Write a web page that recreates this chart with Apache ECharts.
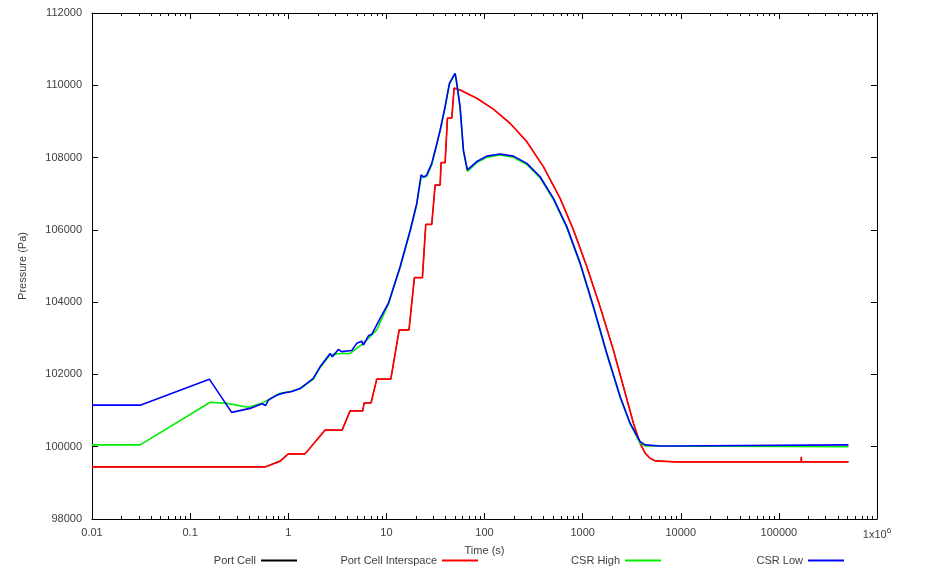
<!DOCTYPE html>
<html><head><meta charset="utf-8">
<script src="https://cdn.jsdelivr.net/npm/echarts@6/dist/echarts.min.js"></script>
<style>html,body{margin:0;padding:0;background:#fff}#c{width:926px;height:572px}</style>
</head><body><div id="c"></div>
<script>
const seriesNames = ['Port Cell', 'Port Cell Interspace', 'CSR High', 'CSR Low'];
const seriesColors = ['#000000', '#ff0000', '#00ee00', '#0000ff'];
const seriesWidths = [1.0, 1.7, 1.6, 1.6];

const portCellTime = [0.01, 0.58, 0.82, 1.0, 1.48, 2.37, 3.54, 4.27, 5.75, 5.93, 6.98, 7.98, 11.1, 13.5, 17.0, 19.3, 23.3, 25.2, 29.0, 31.4, 35.3, 36.1, 39.7, 41.9, 46.4, 49.0, 56.4, 83.5, 123, 182, 270, 398, 590, 806, 1104, 1507, 2061, 2606, 3296, 3855, 4335, 4875, 5480, 8770, 168000, 169000, 170000, 512000];
const portCellP = [99440, 99440, 99610, 99800, 99800, 100460, 100460, 100990, 100990, 101210, 101210, 101870, 101870, 103230, 103230, 104680, 104680, 106150, 106150, 107240, 107240, 107860, 107860, 109090, 109090, 109920, 109870, 109640, 109340, 108950, 108440, 107750, 106870, 106000, 104980, 103870, 102670, 101660, 100650, 100090, 99820, 99680, 99610, 99580, 99580, 99580, 99580, 99580];

const interspaceTime = [0.01, 0.58, 0.82, 1.0, 1.48, 2.37, 3.54, 4.27, 5.75, 5.93, 6.98, 7.98, 11.1, 13.5, 17.0, 19.3, 23.3, 25.2, 29.0, 31.4, 35.3, 36.1, 39.7, 41.9, 46.4, 49.0, 56.4, 83.5, 123, 182, 270, 398, 590, 806, 1104, 1507, 2061, 2606, 3296, 3855, 4335, 4875, 5480, 8770, 168000, 169000, 170000, 512000];
const interspaceP = [99440, 99440, 99590, 99800, 99800, 100460, 100460, 100990, 100990, 101210, 101210, 101870, 101870, 103230, 103230, 104680, 104680, 106150, 106150, 107240, 107240, 107860, 107860, 109090, 109090, 109920, 109870, 109640, 109340, 108950, 108440, 107750, 106870, 106000, 104980, 103870, 102670, 101660, 100650, 100090, 99820, 99680, 99610, 99580, 99580, 99720, 99580, 99580];

const csrHighTime = [0.01, 0.031, 0.160, 0.236, 0.392, 0.537, 0.824, 1.04, 1.32, 1.80, 2.11, 2.67, 3.37, 4.27, 5.83, 7.98, 10.5, 13.8, 17.5, 20.4, 22.6, 25.8, 29.0, 32.7, 35.3, 39.7, 43.9, 50.1, 51.3, 56.4, 61.0, 66.9, 83.5, 105.5, 144, 197, 270, 369, 504, 690, 944, 1291, 1766, 2411, 3048, 3855, 4335, 4510, 512000];
const csrHighP = [100050, 100050, 101230, 101200, 101090, 101200, 101480, 101520, 101610, 101870, 102190, 102540, 102580, 102580, 102860, 103230, 103950, 104950, 105970, 106710, 107450, 107480, 107800, 108370, 108740, 109400, 110030, 110320, 110180, 109380, 108180, 107620, 107860, 108010, 108070, 108010, 107810, 107440, 106840, 106060, 105050, 103840, 102550, 101360, 100630, 100100, 100020, 100000, 100000];

const csrLowTime = [0.01, 0.031, 0.157, 0.265, 0.408, 0.541, 0.587, 0.627, 0.769, 0.906, 1.09, 1.32, 1.80, 2.11, 2.67, 2.82, 3.24, 3.51, 4.44, 4.99, 5.61, 5.83, 6.56, 7.10, 8.63, 10.5, 13.8, 17.5, 20.4, 22.6, 24.1, 25.8, 29.0, 32.7, 35.3, 39.7, 43.9, 50.1, 51.3, 56.4, 61.0, 66.9, 83.5, 105.5, 144, 197, 270, 369, 504, 690, 944, 1291, 1766, 2411, 3048, 3855, 4335, 6170, 7800, 8170, 512000];
const csrLowP = [101150, 101150, 101870, 100950, 101060, 101190, 101140, 101290, 101430, 101490, 101530, 101610, 101890, 102210, 102580, 102490, 102690, 102630, 102660, 102860, 102920, 102810, 103070, 103110, 103550, 103970, 104980, 105990, 106730, 107520, 107460, 107520, 107840, 108390, 108760, 109410, 110050, 110330, 110190, 109400, 108200, 107660, 107890, 108040, 108100, 108040, 107840, 107470, 106870, 106090, 105080, 103870, 102580, 101390, 100650, 100140, 100050, 100020, 100020, 100050, 100050];

const yTicks = [98000, 112000, 2000]; // min, max, step
const xRange = [0.01, 1e6];

const FONT = 'Liberation Sans, Arial, sans-serif';
const TXT = '#404040';

const allTimes = [portCellTime, interspaceTime, csrHighTime, csrLowTime];
const allP = [portCellP, interspaceP, csrHighP, csrLowP];

const minorVals = [];
for (let d = -2; d < 6; d++) for (let k = 2; k < 10; k++) minorVals.push(d + Math.log10(k));

const legendEnds = [297, 478, 661, 844];

const chart = echarts.init(document.getElementById('c'));
const majorAxis = (pos, showLabel) => ({
  type: 'log', logBase: 10, position: pos, min: xRange[0], max: xRange[1], splitNumber: 8,
  axisLine: {show: true, onZero: false, lineStyle: {color: '#000', width: 1}},
  axisTick: {show: true, inside: true, length: 6, lineStyle: {color: '#000'}},
  splitLine: {show: false},
  axisLabel: showLabel ? {
    show: true, margin: 8, color: TXT, fontSize: 11, fontFamily: FONT,
    formatter: v => (v >= 999999 ? '{a|1x10}{s|6}' : String(+(+v).toPrecision(6))),
    rich: {a: {fontSize: 11, color: TXT, fontFamily: FONT}, s: {fontSize: 8, color: TXT, fontFamily: FONT, verticalAlign: 'bottom', padding: [0, 0, 7, 0]}}
  } : {show: false}
});
const minorAxis = (pos) => ({
  type: 'value', position: pos, min: -2, max: 6,
  axisLine: {show: false, onZero: false}, axisLabel: {show: false}, splitLine: {show: false},
  axisTick: {show: true, inside: true, length: 3, customValues: minorVals, lineStyle: {color: '#000'}}
});
const bottom = majorAxis('bottom', true);
bottom.name = 'Time (s)';
bottom.nameLocation = 'middle';
bottom.nameGap = 26;
bottom.nameTextStyle = {color: TXT, fontSize: 11, fontFamily: FONT};

const yAx = (pos, showLabel) => ({
  type: 'value', position: pos, min: yTicks[0], max: yTicks[1], interval: yTicks[2],
  axisLine: {show: true, onZero: false, lineStyle: {color: '#000', width: 1}},
  axisTick: {show: true, inside: true, length: 6, lineStyle: {color: '#000'}},
  splitLine: {show: false},
  axisLabel: showLabel ? {show: true, margin: 10, color: TXT, fontSize: 11, fontFamily: FONT, formatter: v => String(v)} : {show: false}
});
const left = yAx('left', true);
left.name = 'Pressure (Pa)';
left.nameLocation = 'middle';
left.nameGap = 64;
left.nameRotate = 90;
left.nameTextStyle = {color: TXT, fontSize: 11, fontFamily: FONT};

chart.setOption({
  animation: false,
  backgroundColor: '#fff',
  grid: {left: 92, right: 49, top: 13, bottom: 53, containLabel: false},
  xAxis: [bottom, minorAxis('bottom'), majorAxis('top', false), minorAxis('top')],
  yAxis: [left, yAx('right', false)],
  legend: seriesNames.map((n, i) => ({
    data: [n], right: 926 - legendEnds[i], top: 555, align: 'right', icon: 'rect',
    itemWidth: 36, itemHeight: 2, padding: 0, selectedMode: false,
    textStyle: {fontSize: 11, color: TXT, fontFamily: FONT}
  })),
  series: seriesNames.map((n, i) => ({
    name: n, type: 'line', xAxisIndex: 0, yAxisIndex: 0,
    data: allTimes[i].map((t, j) => [t, allP[i][j]]),
    showSymbol: false, symbol: 'none', color: seriesColors[i],
    lineStyle: {width: seriesWidths[i], color: seriesColors[i]},
    itemStyle: {color: seriesColors[i]}
  }))
});
</script></body></html>
